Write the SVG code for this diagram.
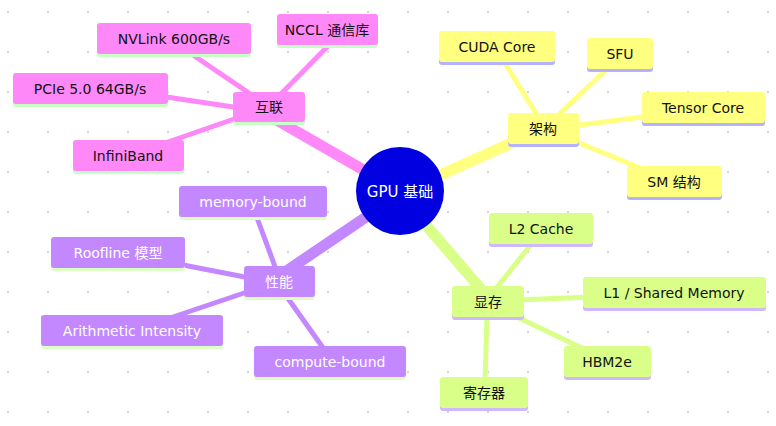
<svg xmlns="http://www.w3.org/2000/svg" width="776" height="426" viewBox="0 0 776 426">
<defs>
<pattern id="grid" x="7" y="11" width="40" height="40" patternUnits="userSpaceOnUse"><rect x="0" y="0" width="2" height="2" fill="#d4d4d4"/></pattern>
<style>
text{font-family:"DejaVu Sans","Noto Sans CJK SC",sans-serif;font-size:14px;text-anchor:middle}
.pk{fill:#ff88f8}.pks{fill:#c6ffc6}
.ye{fill:#ffff80}.yes{fill:#b3b3ff}
.pu{fill:#c388ff}.pus{fill:#dcffc4}
.gr{fill:#d9ff88}.grs{fill:#d0b8ff}
.dk{fill:#111}.wh{fill:#fff}
.c line{stroke-linecap:butt}
.lpk{stroke:#ff88f8}.lye{stroke:#ffff80}.lpu{stroke:#c388ff}.lgr{stroke:#d9ff88}
.thick{stroke-width:11}.thin{stroke-width:5}
</style>
</defs>
<rect width="776" height="426" fill="#fff"/>
<rect width="776" height="426" fill="url(#grid)"/>
<g id="connectors" class="c">
<line class="lpk thick" x1="400" y1="191" x2="275" y2="119"/>
<line class="lye thick" x1="400" y1="193" x2="527" y2="136"/>
<line class="lpu thick" x1="400" y1="194" x2="285" y2="272"/>
<line class="lgr thick" x1="400" y1="195" x2="487" y2="296"/>
<line class="lpk thin" x1="190" y1="53" x2="258" y2="99"/>
<line class="lpk thin" x1="330" y1="44" x2="277" y2="98"/>
<line class="lpk thin" x1="160" y1="96" x2="240" y2="108"/>
<line class="lpk thin" x1="165" y1="143" x2="240" y2="117"/>
<line class="lye thin" x1="503" y1="60" x2="540" y2="120"/>
<line class="lye thin" x1="608" y1="68" x2="555" y2="118"/>
<line class="lye thin" x1="572" y1="126" x2="650" y2="116"/>
<line class="lye thin" x1="572" y1="140" x2="650" y2="172"/>
<line class="lpu thin" x1="256" y1="215" x2="277" y2="272"/>
<line class="lpu thin" x1="178" y1="264" x2="250" y2="278"/>
<line class="lpu thin" x1="170" y1="318" x2="250" y2="291"/>
<line class="lpu thin" x1="287" y1="297" x2="326" y2="352"/>
<line class="lgr thin" x1="533" y1="242" x2="494" y2="291"/>
<line class="lgr thin" x1="518" y1="300" x2="590" y2="297"/>
<line class="lgr thin" x1="517" y1="317" x2="584" y2="349"/>
<line class="lgr thin" x1="487" y1="315" x2="485" y2="383"/>
</g>
<g id="root"><circle cx="400" cy="191" r="44" fill="#0000e0"/><text class="wh" x="400" y="197" style="font-size:15px">GPU 基础</text></g>
<g id="n-hulian"><rect class="pks" x="233" y="95" width="72" height="30" rx="3"/><rect class="pk" x="233" y="92" width="72" height="30" rx="3"/><text class="dk" x="269" y="112">互联</text></g>
<g id="n-nvlink"><rect class="pks" x="97" y="26" width="154" height="31" rx="3"/><rect class="pk" x="97" y="23" width="154" height="31" rx="3"/><text class="dk" x="174" y="44">NVLink 600GB/s</text></g>
<g id="n-nccl"><rect class="pks" x="277" y="17" width="101" height="31" rx="3"/><rect class="pk" x="277" y="14" width="101" height="31" rx="3"/><text class="dk" x="327" y="35">NCCL 通信库</text></g>
<g id="n-pcie"><rect class="pks" x="13" y="76" width="155" height="31" rx="3"/><rect class="pk" x="13" y="73" width="155" height="31" rx="3"/><text class="dk" x="90" y="94">PCIe 5.0 64GB/s</text></g>
<g id="n-ib"><rect class="pks" x="73" y="143" width="111" height="31" rx="3"/><rect class="pk" x="73" y="140" width="111" height="31" rx="3"/><text class="dk" x="128" y="161">InfiniBand</text></g>
<g id="n-jiagou"><rect class="yes" x="508" y="116" width="71" height="31" rx="3"/><rect class="ye" x="508" y="113" width="71" height="31" rx="3"/><text class="dk" x="543" y="134">架构</text></g>
<g id="n-cuda"><rect class="yes" x="439" y="34" width="116" height="31" rx="3"/><rect class="ye" x="439" y="31" width="116" height="31" rx="3"/><text class="dk" x="497" y="52">CUDA Core</text></g>
<g id="n-sfu"><rect class="yes" x="587" y="41" width="66" height="31" rx="3"/><rect class="ye" x="587" y="38" width="66" height="31" rx="3"/><text class="dk" x="620" y="59">SFU</text></g>
<g id="n-tensor"><rect class="yes" x="642" y="95" width="123" height="31" rx="3"/><rect class="ye" x="642" y="92" width="123" height="31" rx="3"/><text class="dk" x="703" y="113">Tensor Core</text></g>
<g id="n-sm"><rect class="yes" x="627" y="169" width="95" height="31" rx="3"/><rect class="ye" x="627" y="166" width="95" height="31" rx="3"/><text class="dk" x="674" y="187">SM 结构</text></g>
<g id="n-xingneng"><rect class="pus" x="244" y="269" width="71" height="31" rx="3"/><rect class="pu" x="244" y="266" width="71" height="31" rx="3"/><text class="wh" x="279" y="287">性能</text></g>
<g id="n-membound"><rect class="pus" x="179" y="189" width="148" height="31" rx="3"/><rect class="pu" x="179" y="186" width="148" height="31" rx="3"/><text class="wh" x="253" y="207">memory-bound</text></g>
<g id="n-roofline"><rect class="pus" x="51" y="240" width="134" height="31" rx="3"/><rect class="pu" x="51" y="237" width="134" height="31" rx="3"/><text class="wh" x="118" y="258">Roofline 模型</text></g>
<g id="n-ai"><rect class="pus" x="41" y="318" width="182" height="31" rx="3"/><rect class="pu" x="41" y="315" width="182" height="31" rx="3"/><text class="wh" x="132" y="336">Arithmetic Intensity</text></g>
<g id="n-compute"><rect class="pus" x="254" y="349" width="152" height="31" rx="3"/><rect class="pu" x="254" y="346" width="152" height="31" rx="3"/><text class="wh" x="330" y="367">compute-bound</text></g>
<g id="n-xiancun"><rect class="grs" x="452" y="289" width="72" height="31" rx="3"/><rect class="gr" x="452" y="286" width="72" height="31" rx="3"/><text class="dk" x="488" y="307">显存</text></g>
<g id="n-l2"><rect class="grs" x="489" y="216" width="104" height="31" rx="3"/><rect class="gr" x="489" y="213" width="104" height="31" rx="3"/><text class="dk" x="541" y="234">L2 Cache</text></g>
<g id="n-l1"><rect class="grs" x="583" y="280" width="183" height="31" rx="3"/><rect class="gr" x="583" y="277" width="183" height="31" rx="3"/><text class="dk" x="674" y="298">L1 / Shared Memory</text></g>
<g id="n-hbm"><rect class="grs" x="564" y="349" width="87" height="31" rx="3"/><rect class="gr" x="564" y="346" width="87" height="31" rx="3"/><text class="dk" x="607" y="367">HBM2e</text></g>
<g id="n-reg"><rect class="grs" x="440" y="380" width="88" height="31" rx="3"/><rect class="gr" x="440" y="377" width="88" height="31" rx="3"/><text class="dk" x="484" y="398">寄存器</text></g>
</svg>
